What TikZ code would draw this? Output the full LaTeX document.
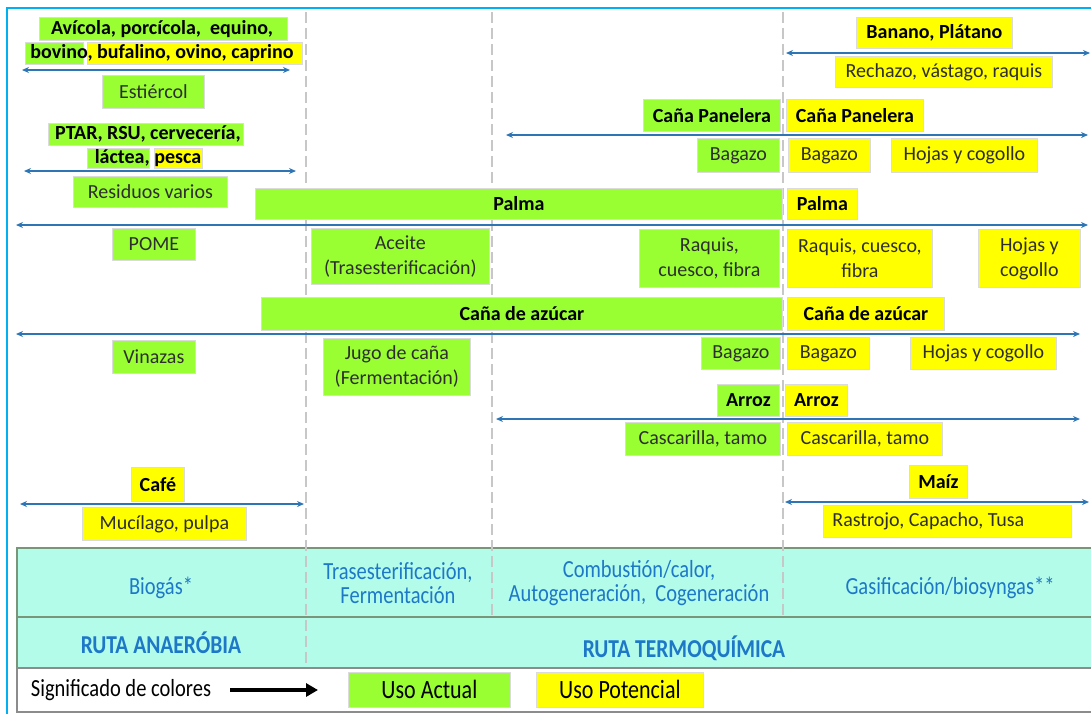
\documentclass[tikz,border=0pt]{standalone}
\usepackage{fontspec}
\setmainfont{Carlito}
\usetikzlibrary{arrows.meta}
\definecolor{cgreen}{HTML}{99FF33}
\definecolor{cyellow}{HTML}{FFFF00}
\definecolor{cband}{HTML}{B4FCEA}
\definecolor{cbandline}{HTML}{7A967A}
\definecolor{cblue}{HTML}{2E75B6}
\definecolor{cbtext}{HTML}{1E78C8}
\definecolor{cframe}{HTML}{00B0F0}
\newcommand\fsn{\fontsize{20}{25}\selectfont}
\newcommand\fsb{\fontsize{20}{25}\selectfont\bfseries}
\newcommand\fsband{\fontsize{20.5}{24}\selectfont}
\newcommand\fsruta{\fontsize{21.5}{24}\selectfont\bfseries}
\newcommand\fsleg{\fontsize{22}{24}\selectfont}
\newcommand\tallt[1]{\scalebox{1}[1.2]{#1}}
\tikzset{
  box/.style={draw=black!14, line width=0.8pt, inner sep=0pt, anchor=north west, align=center, font=\fsn, text=black!82},
  gb/.style={box, fill=cgreen},
  yb/.style={box, fill=cyellow},
  bold/.style={font=\fsb, text=black},
  plain/.style={inner sep=0pt, align=center},
  patch/.style={draw=black!14, line width=0.8pt},
  arr/.style={{Stealth[length=7pt,width=6pt]}-{Stealth[length=7pt,width=6pt]}, draw=cblue, line width=1.5pt},
  vdash/.style={draw=black!22, line width=1.8pt, dash pattern=on 11pt off 5pt},
  band/.style={fill=cband, draw=cbandline, line width=1.6pt},
  btext/.style={inner sep=0pt, font=\fsband, text=cbtext, align=center},
}
\begin{document}
\begin{tikzpicture}[x=1pt,y=-1pt]
\useasboundingbox (0,0) rectangle (1091,713);
\clip (0,0) rectangle (1091,713);
\fill[white] (0,0) rectangle (1091,713);

% frame
\draw[cframe, line width=1.8pt] (7,716) -- (7,8) -- (1095,8);

% bands
\draw[band] (17,548) rectangle (1100,617);
\draw[band] (17,617) rectangle (1100,668);
\draw[draw=black!45, line width=1.6pt, fill=white] (17,668) rectangle (1100,712);

% dashed separators
\draw[vdash] (306,12) -- (306,668);
\draw[vdash] (492,12) -- (492,617);
\draw[vdash] (783,12) -- (783,617);

% ---- top left: animal residues
\draw[patch, fill=cgreen] (39,17) rectangle (287,40);
\draw[patch, fill=cgreen] (25,42) rectangle (83,64);
\draw[patch, fill=cyellow] (87,42) rectangle (302,64);
\node[plain, font=\fsb] (avi) at (162,29) {Avícola, porcícola,\ \ equino,};
\node[plain, font=\fsb] (bov) at (162,53) {bovino, bufalino, ovino, caprino};
\coordinate (a1l) at (22,70); \coordinate (a1r) at (290,70);
\draw[arr] (a1l) -- (a1r);
\node[gb, minimum width=102, minimum height=33] (estiercol) at (102,75) {Estiércol};

\draw[patch, fill=cgreen] (48,123) rectangle (243,145);
\draw[patch, fill=cgreen] (87,148) rectangle (149,168);
\draw[patch, fill=cyellow] (154,148) rectangle (202,168);
\node[plain, font=\fsb] (ptar) at (148,134) {PTAR, RSU, cervecería,};
\node[plain, font=\fsb] (lactea) at (148,158) {láctea, pesca};
\coordinate (a2l) at (24,171); \coordinate (a2r) at (296,171);
\draw[arr] (a2l) -- (a2r);
\node[gb, minimum width=154, minimum height=31] (residuos) at (73,176) {Residuos varios};

% ---- top right: banano, caña panelera
\node[yb, bold, minimum width=156, minimum height=31] (banano) at (856,17) {Banano, Plátano};
\coordinate (a3l) at (786,53); \coordinate (a3r) at (1090,53);
\draw[arr] (a3l) -- (a3r);
\node[yb, minimum width=217, minimum height=31] (rechazo) at (835,56) {Rechazo, vástago, raquis};

\node[gb, bold, minimum width=137, minimum height=32] (panG) at (643,99) {Caña Panelera};
\node[yb, bold, minimum width=137, minimum height=32] (panY) at (786,99) {Caña Panelera};
\coordinate (a4l) at (506,135); \coordinate (a4r) at (1088,135);
\draw[arr] (a4l) -- (a4r);
\node[gb, minimum width=82, minimum height=34] (bagG1) at (697,138) {Bagazo};
\node[yb, minimum width=82, minimum height=34] (bagY1) at (788,138) {Bagazo};
\node[yb, minimum width=146, minimum height=34] (hojas1) at (891,138) {Hojas y cogollo};

% ---- Palma
\node[gb, bold, minimum width=527, minimum height=31] (palmaG) at (255,188) {Palma};
\node[yb, bold, minimum width=70, minimum height=31] (palmaY) at (787,188) {Palma};
\coordinate (a5l) at (16,225); \coordinate (a5r) at (1088,225);
\draw[arr] (a5l) -- (a5r);
\node[gb, minimum width=83, minimum height=32] (pome) at (112,228) {POME};
\node[gb, minimum width=178, minimum height=56] (aceite) at (311,228) {Aceite\\(Trasesterificación)};
\node[gb, minimum width=140, minimum height=58] (raqG) at (639,229) {Raquis,\\cuesco, fibra};
\node[yb, minimum width=145, minimum height=58] (raqY) at (787,229) {Raquis, cuesco,\\fibra};
\node[yb, minimum width=102, minimum height=58] (hojas2) at (978,229) {Hojas y\\cogollo};

% ---- Caña de azúcar
\node[gb, bold, minimum width=521, minimum height=33] (azG) at (261,297) {Caña de azúcar};
\node[yb, bold, minimum width=157, minimum height=33] (azY) at (787,297) {Caña de azúcar};
\coordinate (a6l) at (16,334); \coordinate (a6r) at (1080,334);
\draw[arr] (a6l) -- (a6r);
\node[gb, minimum width=83, minimum height=33] (vinazas) at (112,340) {Vinazas};
\node[gb, minimum width=147, minimum height=57] (jugo) at (323,338) {Jugo de caña\\(Fermentación)};
\node[gb, minimum width=79, minimum height=32] (bagG2) at (701,337) {Bagazo};
\node[yb, minimum width=82, minimum height=32] (bagY2) at (787,337) {Bagazo};
\node[yb, minimum width=146, minimum height=32] (hojas3) at (910,337) {Hojas y cogollo};

% ---- Arroz
\node[gb, bold, minimum width=62, minimum height=32] (arrozG) at (717,384) {Arroz};
\node[yb, bold, minimum width=62, minimum height=32] (arrozY) at (785,384) {Arroz};
\coordinate (a7l) at (496,419); \coordinate (a7r) at (1080,419);
\draw[arr] (a7l) -- (a7r);
\node[gb, minimum width=155, minimum height=33] (cascG) at (625,422) {Cascarilla, tamo};
\node[yb, minimum width=155, minimum height=33] (cascY) at (787,422) {Cascarilla, tamo};

% ---- Café, Maíz
\node[yb, bold, minimum width=53, minimum height=34] (cafe) at (131,467) {Café};
\coordinate (a8l) at (20,504); \coordinate (a8r) at (304,504);
\draw[arr] (a8l) -- (a8r);
\node[yb, minimum width=164, minimum height=33] (mucilago) at (82,507) {Mucílago, pulpa};
\node[yb, bold, minimum width=58, minimum height=33] (maiz) at (909,465) {Maíz};
\coordinate (a9l) at (785,502); \coordinate (a9r) at (1089,502);
\draw[arr] (a9l) -- (a9r);
\node[yb, minimum width=248, minimum height=32, text width=230, align=flush left] (rastrojo) at (823,505) {Rastrojo, Capacho, Tusa};

% ---- band texts
\node[btext] (biogas) at (161,588) {\tallt{Biogás*}};
\node[btext] (trans) at (398,583) {\tallt{Trasesterificación,}\\\tallt{Fermentación}};
\node[btext] (comb) at (639,583) {\tallt{Combustión/calor,}\\\tallt{Autogeneración,\ \ Cogeneración}};
\node[btext] (gasif) at (950,588) {\tallt{Gasificación/biosyngas**}};
\node[btext, font=\fsruta] (anaer) at (161,643) {\tallt{RUTA ANAERÓBIA}};
\node[btext, font=\fsruta] (termo) at (684,648) {\tallt{RUTA TERMOQUÍMICA}};

% ---- legend
\node[plain, font=\fsband, text=black] (signif) at (121,690) {\tallt{Significado de colores}};
\coordinate (la1) at (230,690); \coordinate (la2) at (318,690);
\draw[-{Triangle[length=12pt,width=13pt]}, line width=4pt] (la1) -- (la2);
\node[gb, font=\fsleg, text=black, minimum width=162, minimum height=35] (actual) at (348,672) {\tallt{Uso Actual}};
\node[yb, font=\fsleg, text=black, minimum width=167, minimum height=35] (potencial) at (536,672) {\tallt{Uso Potencial}};
\end{tikzpicture}
\end{document}
